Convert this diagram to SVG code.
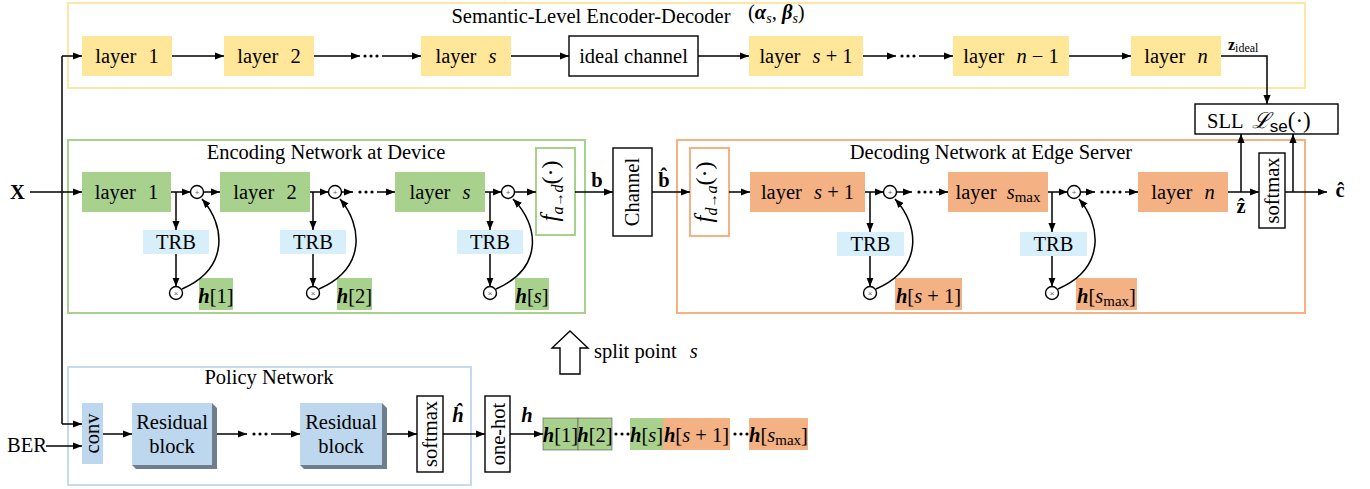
<svg xmlns="http://www.w3.org/2000/svg" width="1370" height="489" viewBox="0 0 1370 489">
<defs>
  <marker id="ah" viewBox="0 0 10 8" refX="10" refY="4" markerWidth="9" markerHeight="7.2" orient="auto" markerUnits="userSpaceOnUse">
    <path d="M0,0 L10,4 L0,8 Z" fill="#000"/>
  </marker>
  <style>
    .t{font-family:"Liberation Serif","Times New Roman",serif;font-size:20.5px;fill:#000}
    .tc{text-anchor:middle}
    .i{font-style:italic}
    .bi{font-style:italic;font-weight:bold}
    .b{font-weight:bold}
    .sub{font-size:14px}
    .ln{stroke:#000;stroke-width:1.5;fill:none}
    .ar{stroke:#000;stroke-width:1.5;fill:none;marker-end:url(#ah)}
    .yel{fill:#FFE699}
    .grn{fill:#A9D18E}
    .org{fill:#F4B183}
    .trb{fill:#D6EFFB}
    .blk{fill:#fff;stroke:#000;stroke-width:1.4}
    .op{fill:#fff;stroke:#000;stroke-width:1.4}
    .opt{font-family:"Liberation Sans",sans-serif;font-size:8px;fill:#666;text-anchor:middle}
    .dot{fill:#000}
  </style>
</defs>
<rect width="1370" height="489" fill="#fff"/>

<!-- Semantic-level encoder-decoder (upper row) -->
<g id="semantic">
  <rect x="68" y="3" width="1237" height="85" fill="none" stroke="#FDE7A6" stroke-width="2"/>
  <text class="t tc" x="591" y="23">Semantic-Level Encoder-Decoder</text>
  <text class="t" x="748" y="19">(<tspan class="bi">α</tspan><tspan class="i sub" dy="4">s</tspan><tspan dy="-4">, </tspan><tspan class="bi">β</tspan><tspan class="i sub" dy="4">s</tspan><tspan dy="-4">)</tspan></text>
</g>
<g id="sem-layer1"><rect class="yel" x="82" y="36" width="90" height="40"/><text class="t tc" x="127" y="63">layer <tspan dx="7">1</tspan></text></g>
<g id="sem-layer2"><rect class="yel" x="224" y="36" width="90" height="40"/><text class="t tc" x="269" y="63">layer <tspan dx="7">2</tspan></text></g>
<g id="sem-layers"><rect class="yel" x="421" y="36" width="90" height="40"/><text class="t tc" x="466" y="63">layer <tspan class="i" dx="7">s</tspan></text></g>
<g id="ideal-channel"><rect class="blk" x="569" y="36" width="129" height="40"/><text class="t tc" x="633.5" y="63">ideal channel</text></g>
<g id="sem-layers1"><rect class="yel" x="749" y="36" width="114" height="40"/><text class="t tc" x="806" y="63">layer <tspan class="i" dx="7">s</tspan> + 1</text></g>
<g id="sem-layern1"><rect class="yel" x="953" y="36" width="116" height="40"/><text class="t tc" x="1011" y="63">layer <tspan class="i" dx="7">n</tspan> − 1</text></g>
<g id="sem-layern"><rect class="yel" x="1131" y="36" width="90" height="40"/><text class="t tc" x="1176" y="63">layer <tspan class="i" dx="7">n</tspan></text></g>
<g id="z-ideal-label"><text class="t" x="1228" y="50"><tspan class="b" font-size="16">z</tspan><tspan font-size="12" dy="2">ideal</tspan></text></g>

<!-- SLL loss -->
<g id="sll"><rect class="blk" x="1195" y="104" width="143" height="30"/>
  <text class="t" x="1207" y="128">SLL <tspan font-family="DejaVu Serif,serif" font-style="italic" font-size="22" dx="4">ℒ</tspan><tspan font-family="Liberation Sans,sans-serif" font-size="17" dy="4">se</tspan><tspan font-size="23" dy="-4">(·)</tspan></text>
</g>

<!-- Encoding network at device -->
<g id="encoder">
  <rect x="68" y="140" width="517" height="173" fill="none" stroke="#A9D18E" stroke-width="2"/>
  <text class="t tc" x="326" y="159">Encoding Network at Device</text>
</g>
<g id="enc-layer1"><rect class="grn" x="82" y="172" width="89" height="40"/><text class="t tc" x="126.5" y="199">layer <tspan dx="7">1</tspan></text></g>
<g id="enc-layer2"><rect class="grn" x="220" y="172" width="90" height="40"/><text class="t tc" x="265" y="199">layer <tspan dx="7">2</tspan></text></g>
<g id="enc-layers"><rect class="grn" x="395" y="172" width="90" height="40"/><text class="t tc" x="440" y="199">layer <tspan class="i" dx="7">s</tspan></text></g>
<g id="enc-trb1"><rect class="trb" x="143" y="230" width="66" height="24"/><text class="t tc" x="176" y="249">TRB</text></g>
<g id="enc-trb2"><rect class="trb" x="280" y="230" width="66" height="24"/><text class="t tc" x="313" y="249">TRB</text></g>
<g id="enc-trbs"><rect class="trb" x="457" y="230" width="66" height="24"/><text class="t tc" x="490" y="249">TRB</text></g>
<g id="enc-h1"><rect class="grn" x="199" y="278" width="34" height="32"/><text class="t tc" x="216" y="303"><tspan class="bi">h</tspan>[1]</text></g>
<g id="enc-h2"><rect class="grn" x="337" y="278" width="35" height="32"/><text class="t tc" x="354.5" y="303"><tspan class="bi">h</tspan>[2]</text></g>
<g id="enc-hs"><rect class="grn" x="515" y="278" width="34" height="32"/><text class="t tc" x="532" y="303"><tspan class="bi">h</tspan>[<tspan class="i">s</tspan>]</text></g>
<g id="enc-ops">
  <circle class="op" cx="197" cy="192" r="6.5"/><text class="opt" x="197" y="195">+</text>
  <circle class="op" cx="176" cy="293" r="6.5"/><text class="opt" x="176" y="295.5">×</text>
  <circle class="op" cx="335" cy="192" r="6.5"/><text class="opt" x="335" y="195">+</text>
  <circle class="op" cx="313" cy="293" r="6.5"/><text class="opt" x="313" y="295.5">×</text>
  <circle class="op" cx="508" cy="192" r="6.5"/><text class="opt" x="508" y="195">+</text>
  <circle class="op" cx="490" cy="293" r="6.5"/><text class="opt" x="490" y="295.5">×</text>
</g>
<g id="f-ad"><rect x="536" y="148" width="39" height="87" fill="#fff" stroke="#A9D18E" stroke-width="2"/>
  <text class="t tc" transform="translate(558,191) rotate(-90)"><tspan class="i" font-size="25">f</tspan><tspan class="i" font-size="16" dy="5">a</tspan><tspan font-size="14">→</tspan><tspan class="i" font-size="16">d</tspan><tspan font-size="24" dy="-5">(·)</tspan></text>
</g>

<!-- Channel -->
<g id="channel"><rect class="blk" x="613" y="148" width="39" height="88"/>
  <text class="t tc" transform="translate(639,192) rotate(-90)">Channel</text>
</g>
<g id="b-labels">
  <text class="t b tc" x="597" y="187">b</text>
  <text class="t b tc" x="664" y="187">b&#x302;</text>
</g>

<!-- Decoding network at edge server -->
<g id="decoder">
  <rect x="677" y="140" width="628" height="173" fill="none" stroke="#F4B183" stroke-width="2"/>
  <text class="t tc" x="991" y="159">Decoding Network at Edge Server</text>
</g>
<g id="f-da"><rect x="690" y="148" width="39" height="88" fill="#fff" stroke="#F4B183" stroke-width="2"/>
  <text class="t tc" transform="translate(712,192) rotate(-90)"><tspan class="i" font-size="25">f</tspan><tspan class="i" font-size="16" dy="5">d</tspan><tspan font-size="14">→</tspan><tspan class="i" font-size="16">a</tspan><tspan font-size="24" dy="-5">(·)</tspan></text>
</g>
<g id="dec-layers1"><rect class="org" x="750" y="172" width="115" height="40"/><text class="t tc" x="807.5" y="199">layer <tspan class="i" dx="7">s</tspan> + 1</text></g>
<g id="dec-layersmax"><rect class="org" x="948" y="172" width="100" height="40"/><text class="t tc" x="998" y="199">layer <tspan class="i" dx="5">s</tspan><tspan font-size="15" dy="3">max</tspan></text></g>
<g id="dec-layern"><rect class="org" x="1138" y="172" width="90" height="40"/><text class="t tc" x="1183" y="199">layer <tspan class="i" dx="7">n</tspan></text></g>
<g id="dec-trb1"><rect class="trb" x="837" y="232" width="67" height="24"/><text class="t tc" x="870.5" y="251">TRB</text></g>
<g id="dec-trb2"><rect class="trb" x="1020" y="232" width="67" height="24"/><text class="t tc" x="1053.5" y="251">TRB</text></g>
<g id="dec-hs1"><rect class="org" x="895" y="278" width="67" height="32"/><text class="t tc" x="928.5" y="303"><tspan class="bi">h</tspan>[<tspan class="i">s</tspan> + 1]</text></g>
<g id="dec-hsmax"><rect class="org" x="1076" y="278" width="61" height="32"/><text class="t tc" x="1106.5" y="303"><tspan class="bi">h</tspan>[<tspan class="i">s</tspan><tspan font-size="15" dy="3">max</tspan><tspan dy="-3">]</tspan></text></g>
<g id="dec-ops">
  <circle class="op" cx="890" cy="192" r="6.5"/><text class="opt" x="890" y="195">+</text>
  <circle class="op" cx="870" cy="293" r="6.5"/><text class="opt" x="870" y="295.5">×</text>
  <circle class="op" cx="1074" cy="192" r="6.5"/><text class="opt" x="1074" y="195">+</text>
  <circle class="op" cx="1052" cy="293" r="6.5"/><text class="opt" x="1052" y="295.5">×</text>
</g>
<g id="dec-softmax"><rect class="blk" x="1259" y="153" width="26" height="75"/>
  <text class="t tc" transform="translate(1279,190.5) rotate(-90)">softmax</text>
</g>
<g id="out-labels">
  <text class="t b tc" x="1241" y="213">ẑ</text>
  <text class="t b tc" x="1340" y="197">ĉ</text>
</g>
<g id="x-input"><text class="t b" x="10" y="199">X</text></g>

<!-- Policy network -->
<g id="policy">
  <rect x="68" y="367" width="403" height="118" fill="none" stroke="#C3DAEF" stroke-width="2"/>
  <text class="t tc" x="269" y="384">Policy Network</text>
</g>
<g id="conv"><rect fill="#BDD7EE" x="82" y="403" width="21" height="61"/>
  <text class="t tc" transform="translate(99,433.5) rotate(-90)">conv</text>
</g>
<g id="resblock1">
  <polygon points="212,403 217,408 217,469 136,469 132,465 212,465" fill="#6F7E8E"/>
  <rect fill="#BDD7EE" x="132" y="403" width="80" height="62"/>
  <text class="t tc" x="172" y="429">Residual</text><text class="t tc" x="172" y="453">block</text>
</g>
<g id="resblock2">
  <polygon points="382,403 387,408 387,469 304,469 300,465 382,465" fill="#6F7E8E"/>
  <rect fill="#BDD7EE" x="300" y="403" width="82" height="62"/>
  <text class="t tc" x="341" y="429">Residual</text><text class="t tc" x="341" y="453">block</text>
</g>
<g id="pol-softmax"><rect class="blk" x="417" y="396" width="26" height="76"/>
  <text class="t tc" transform="translate(437,434) rotate(-90)">softmax</text>
</g>
<g id="one-hot"><rect class="blk" x="485" y="396" width="25" height="76"/>
  <text class="t tc" transform="translate(505,434) rotate(-90)">one-hot</text>
</g>
<g id="h-labels">
  <text class="t bi tc" x="458" y="422">ĥ</text>
  <text class="t bi tc" x="527" y="422">h</text>
  <text class="t" x="7" y="452">BER</text>
</g>

<!-- split vector h -->
<g id="h-vector">
  <rect class="grn" x="543" y="418" width="35" height="32" stroke="#555" stroke-width="0.6"/>
  <text class="t tc" x="560.5" y="442"><tspan class="bi">h</tspan>[1]</text>
  <rect class="grn" x="578" y="418" width="34" height="32" stroke="#555" stroke-width="0.6"/>
  <text class="t tc" x="595" y="442"><tspan class="bi">h</tspan>[2]</text>
  <circle class="dot" cx="616" cy="434" r="1.6"/><circle class="dot" cx="622" cy="434" r="1.6"/><circle class="dot" cx="628" cy="434" r="1.6"/>
  <rect class="grn" x="630" y="418" width="33" height="32"/>
  <text class="t tc" x="646.5" y="442"><tspan class="bi">h</tspan>[<tspan class="i">s</tspan>]</text>
  <rect class="org" x="663" y="418" width="67" height="32"/>
  <text class="t tc" x="696.5" y="442"><tspan class="bi">h</tspan>[<tspan class="i">s</tspan> + 1]</text>
  <circle class="dot" cx="735" cy="434" r="1.6"/><circle class="dot" cx="741" cy="434" r="1.6"/><circle class="dot" cx="747" cy="434" r="1.6"/>
  <rect class="org" x="749" y="418" width="59" height="32"/>
  <text class="t tc" x="778.5" y="442"><tspan class="bi">h</tspan>[<tspan class="i">s</tspan><tspan font-size="15" dy="3">max</tspan><tspan dy="-3">]</tspan></text>
</g>

<!-- split point indicator -->
<g id="split-point">
  <polygon points="570,331 588,348 580,348 580,374 560,374 560,348 552,348" fill="#fff" stroke="#000" stroke-width="1.4"/>
  <text class="t" x="594" y="358">split point <tspan class="i" dx="8">s</tspan></text>
</g>

<!-- connectors -->
<g id="connectors">
  <!-- upper row -->
  <path class="ar" d="M62,56 H82"/>
  <path class="ar" d="M172,56 H224"/>
  <path class="ar" d="M314,56 H360"/>
  <circle class="dot" cx="365" cy="56" r="1.6"/><circle class="dot" cx="371" cy="56" r="1.6"/><circle class="dot" cx="377" cy="56" r="1.6"/>
  <path class="ar" d="M382,56 H421"/>
  <path class="ar" d="M511,56 H569"/>
  <path class="ar" d="M698,56 H749"/>
  <path class="ar" d="M863,56 H896"/>
  <circle class="dot" cx="902" cy="56" r="1.6"/><circle class="dot" cx="908" cy="56" r="1.6"/><circle class="dot" cx="914" cy="56" r="1.6"/>
  <path class="ar" d="M919,56 H953"/>
  <path class="ar" d="M1069,56 H1131"/>
  <path class="ar" d="M1221,56 H1267 V104"/>

  <!-- input X and its branches -->
  <path class="ln" d="M62,56 V424"/>
  <path class="ar" d="M30,192 H82"/>
  <path class="ar" d="M62,424 H82"/>
  <path class="ar" d="M46,446 H82"/>

  <!-- encoder -->
  <path class="ar" d="M171,192 H190.5"/>
  <path class="ar" d="M176,192 V230"/>
  <path class="ar" d="M176,254 V286.5"/>
  <path class="ar" d="M182,289 C230,268 225,225 202,199"/>
  <path class="ar" d="M203.5,192 H220"/>

  <path class="ar" d="M310,192 H328.5"/>
  <path class="ar" d="M313,192 V230"/>
  <path class="ar" d="M313,254 V286.5"/>
  <path class="ar" d="M319,289 C367,268 362,225 340,199"/>
  <path class="ar" d="M341.5,192 H353"/>
  <circle class="dot" cx="360" cy="192" r="1.6"/><circle class="dot" cx="366" cy="192" r="1.6"/><circle class="dot" cx="372" cy="192" r="1.6"/>
  <path class="ar" d="M377,192 H395"/>

  <path class="ar" d="M485,192 H501.5"/>
  <path class="ar" d="M490,192 V230"/>
  <path class="ar" d="M490,254 V286.5"/>
  <path class="ar" d="M496,289 C544,268 539,225 513,199"/>
  <path class="ar" d="M514.5,192 H536"/>

  <path class="ar" d="M575,192 H613"/>
  <path class="ar" d="M652,192 H690"/>

  <!-- decoder -->
  <path class="ar" d="M729,192 H750"/>
  <path class="ar" d="M865,192 H883.5"/>
  <path class="ar" d="M870,192 V232"/>
  <path class="ar" d="M870,256 V286.5"/>
  <path class="ar" d="M876,289 C924,268 919,225 895,199"/>
  <path class="ar" d="M896.5,192 H912"/>
  <circle class="dot" cx="919" cy="192" r="1.6"/><circle class="dot" cx="925" cy="192" r="1.6"/><circle class="dot" cx="931" cy="192" r="1.6"/>
  <path class="ar" d="M936,192 H948"/>

  <path class="ar" d="M1048,192 H1067.5"/>
  <path class="ar" d="M1052,192 V232"/>
  <path class="ar" d="M1052,256 V286.5"/>
  <path class="ar" d="M1058,289 C1106,268 1101,225 1079,199"/>
  <path class="ar" d="M1080.5,192 H1095"/>
  <circle class="dot" cx="1102" cy="192" r="1.6"/><circle class="dot" cx="1108" cy="192" r="1.6"/><circle class="dot" cx="1114" cy="192" r="1.6"/><circle class="dot" cx="1120" cy="192" r="1.6"/>
  <path class="ar" d="M1125,192 H1138"/>

  <path class="ar" d="M1228,192 H1259"/>
  <path class="ar" d="M1241,192 V134"/>
  <path class="ar" d="M1285,192 H1327"/>
  <path class="ar" d="M1293,192 V134"/>

  <!-- policy network -->
  <path class="ar" d="M103,434 H132"/>
  <path class="ar" d="M217,434 H247"/>
  <circle class="dot" cx="254" cy="434" r="1.6"/><circle class="dot" cx="260" cy="434" r="1.6"/><circle class="dot" cx="266" cy="434" r="1.6"/>
  <path class="ar" d="M271,434 H300"/>
  <path class="ar" d="M387,434 H417"/>
  <path class="ar" d="M443,434 H485"/>
  <path class="ar" d="M510,434 H543"/>
</g>
</svg>
